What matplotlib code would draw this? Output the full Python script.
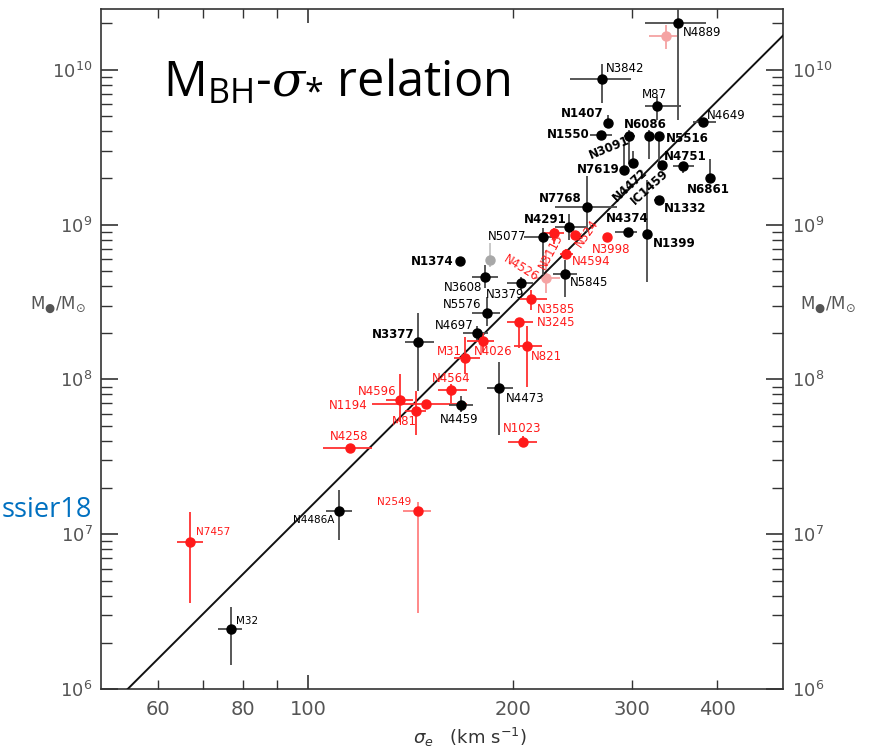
import numpy as np
import matplotlib

matplotlib.use("Agg")
import matplotlib.pyplot as plt  # noqa: E402

# galaxy data: sigma_e [km/s] with lower/upper bounds, M_BH [M_sun] with lower/upper bounds
names = ["N4889", "", "N3842", "M87", "N1407", "N1550", "N3091", "N6086", "N5516", "N4649",
         "N4472", "N7619", "IC1459", "N4751", "N6861", "N1332", "N7768", "N4291", "N4374",
         "N1399", "N5077", "N3115", "N524", "N3998", "N4594", "N1374", "", "N3608", "N3379",
         "N4526", "N5845", "N3585", "N5576", "N3245", "N4697", "N3377", "N4026", "N821",
         "M31", "N4564", "N4473", "N4596", "N1194", "M81", "N4459", "N1023", "N4258",
         "N2549", "N4486A", "N7457", "M32"]
groups = ["k", "p", "k", "k", "k", "k", "k", "k", "k", "k",
          "k", "k", "k", "k", "k", "k", "k", "k", "k",
          "k", "k", "r", "r", "r", "r", "k", "g", "k", "k",
          "p", "k", "r", "k", "r", "k", "k", "r", "r",
          "r", "r", "k", "r", "r", "r", "k", "r", "r",
          "rl", "k", "r", "k"]
sigma = [350, 336, 271, 326, 276, 270, 297, 318, 328, 381,
         301, 292, 332, 356, 390, 328, 257, 242, 296,
         315, 222, 230, 247, 275.5, 240, 167, 185, 182, 206,
         224, 239, 212.6, 183, 204, 177, 145, 181, 210,
         170, 162.5, 191, 136.6, 149, 144, 168, 207, 115,
         145, 111, 67, 77]
sigma_lo = [313, 318, 243, 313, 276, 260, 292, 318, 328, 368,
            301, 292, 332, 344, 390, 323, 231, 231, 283,
            315, 208, 222, 247, 275.5, 235, 167, 185, 174, 196,
            215, 229, 205, 174, 196, 169, 139, 171, 201,
            164, 155, 183, 130, 124, 139, 161, 197, 105,
            138, 106, 64, 73.6]
sigma_hi = [385, 349, 299, 354, 276, 280, 303, 318, 328, 398,
            301, 292, 332, 370, 390, 334, 285, 256, 305,
            315, 232, 238, 247, 275.5, 245, 167, 185, 190.5, 214.5,
            235, 249, 224.4, 191.6, 214.5, 184, 153, 188, 221,
            179, 171, 200, 142.6, 171, 149, 175, 217, 124,
            151.5, 116, 70, 79.8]
mass = [2.0e10, 1.65e10, 8.7e9, 5.8e9, 4.5e9, 3.8e9, 3.7e9, 3.7e9, 3.7e9, 4.6e9,
        2.5e9, 2.25e9, 2.44e9, 2.4e9, 2.0e9, 1.44e9, 1.30e9, 9.6e8, 9.0e8,
        8.65e8, 8.3e8, 8.8e8, 8.5e8, 8.3e8, 6.5e8, 5.8e8, 5.9e8, 4.6e8, 4.2e8,
        4.5e8, 4.8e8, 3.3e8, 2.7e8, 2.35e8, 2.0e8, 1.74e8, 1.78e8, 1.64e8,
        1.37e8, 8.6e7, 8.75e7, 7.4e7, 6.9e7, 6.3e7, 6.8e7, 3.95e7, 3.6e7,
        1.42e7, 1.42e7, 8.9e6, 2.44e6]
mass_lo = [4.7e9, 1.35e10, 6.1e9, 4.7e9, 4.2e9, 3.8e9, 2.45e9, 2.66e9, 2.5e9, 4.6e9,
           2.4e9, 2.25e9, 2.44e9, 2.15e9, 2.0e9, 1.44e9, 8.9e8, 7.9e8, 9.0e8,
           4.25e8, 4.7e8, 7.5e8, 8.5e8, 8.3e8, 6.0e8, 5.8e8, 5.3e8, 3.9e8, 3.8e8,
           3.6e8, 3.4e8, 2.8e8, 2.2e8, 1.6e8, 1.8e8, 8.4e7, 1.5e8, 9.0e7,
           1.08e8, 7.0e7, 4.4e7, 5.3e7, 6.9e7, 4.4e7, 6.2e7, 3.65e7, 3.6e7,
           3.1e6, 9.2e6, 3.6e6, 1.44e6]
mass_hi = [3.0e10, 1.93e10, 1.08e10, 6.7e9, 5.1e9, 3.8e9, 4.1e9, 4.1e9, 3.7e9, 4.6e9,
           3.0e9, 3.3e9, 2.44e9, 2.5e9, 2.66e9, 1.44e9, 2.07e9, 1.17e9, 9.0e8,
           1.93e9, 9.5e8, 9.5e8, 8.5e8, 8.3e8, 7.0e8, 5.8e8, 7.6e8, 5.5e8, 4.6e8,
           6.8e8, 5.9e8, 3.8e8, 3.4e8, 2.5e8, 2.2e8, 2.67e8, 2.0e8, 2.2e8,
           1.87e8, 9.3e7, 1.3e8, 1.08e8, 6.9e7, 8.4e7, 7.8e7, 4.3e7, 3.6e7,
           1.62e7, 1.93e7, 1.4e7, 3.4e6]

# fitted relation: log M = A + B log(sigma / 200)
LINE_A = 8.48
LINE_B = 4.37

x_ticks_labelled = [60, 80, 100, 200, 300, 400]

# label placement (pixel offsets, alignment, rotation)
label_pos = {
    "N4889": (5, -10, "left", 0), "N3842": (4, 10, "left", 0), "M87": (-2, 12, "center", 0),
    "N1407": (-4, 10, "right", 0), "N1550": (-12, 0, "right", 0), "N3091": (-20, -11, "center", 22),
    "N6086": (-4, 12, "center", 0), "N5516": (7, -2, "left", 0), "N4649": (4, 6, "left", 0),
    "N4751": (3, 9, "center", 0), "N6861": (-1, -12, "center", 0), "N7619": (-5, 0, "right", 0),
    "N4472": (-3, -22, "center", 43), "IC1459": (-13, -23, "center", 42),
    "N1332": (5, -9, "left", 0), "N7768": (-5, 8, "right", 0), "N4291": (-2, 8, "right", 0),
    "N4374": (-1, 13, "center", 0), "N1399": (6, -9, "left", 0), "N5077": (-17, 1, "right", 0),
    "N3115": (-3, -18, "center", 62), "N524": (12, 2, "center", 55), "N3998": (4, -12, "center", 0),
    "N4594": (5, -8, "left", 0), "N1374": (-6, 0, "right", 0), "N3608": (-3, -11, "right", 0),
    "N3379": (-16, -12, "center", 0), "N4526": (-25, 10, "center", -32), "N5845": (5, -9, "left", 0),
    "N3585": (6, -10, "left", 0), "N5576": (-5, 8, "right", 0), "N3245": (18, -1, "left", 0),
    "N4697": (-3, 7, "right", 0), "N3377": (-4, 8, "right", 0), "N4026": (10, -11, "center", 0),
    "N821": (4, -10, "left", 0), "M31": (-3, 7, "right", 0), "N4564": (0, 11, "center", 0),
    "N4473": (7, -10, "left", 0), "N4596": (-4, 8, "right", 0), "N1194": (-58, -1, "right", 0),
    "M81": (-11, -11, "center", 0), "N4459": (-2, -14, "center", 0), "N1023": (-1, 13, "center", 0),
    "N4258": (0, 12, "center", 0), "N2549": (-7, 9, "right", 0), "N4486A": (-5, -9, "right", 0),
    "N7457": (6, 10, "left", 0), "M32": (5, 8, "left", 0),
}
bold_labels = {"N1407", "N1550", "N3091", "N6086", "N5516", "N4751", "N7619", "N4472", "IC1459",
               "N6861", "N1332", "N7768", "N4291", "N4374", "N1399", "N1374", "N3377"}
small_labels = {"N7457", "N2549", "N4486A", "M32"}

# group -> (marker colour, errorbar colour, label colour)
styles = {
    "k": ("black", "#4a4a4a", "black"),
    "r": ("#ff1a1a", "#ff3030", "#ff1a1a"),
    "rl": ("#ff1a1a", "#ff8080", "#ff1a1a"),
    "p": ("#f5a3a3", "#f5a3a3", "#ff1a1a"),
    "g": ("#a8a8a8", "#c4c4c4", "#a8a8a8"),
}

plt.rcParams["mathtext.rm"] = "Open Sans"
plt.rcParams["mathtext.it"] = "DejaVu Serif:italic"

fig = plt.figure(figsize=(8.75, 7.51), dpi=100)
ax = fig.add_axes([101 / 875, 61.7 / 751, 682.3 / 875, 680 / 751])
ax.set_xscale("log")
ax.set_yscale("log")
ax.set_xlim(49.5, 500.7)
ax.set_ylim(1e6, 2.45e10)

# relation line
xs = np.geomspace(45, 520, 50)
ax.plot(xs, 10 ** (LINE_A + LINE_B * np.log10(xs / 200.0)), color="#111111", lw=1.4, zorder=3)

sig = np.array(sigma)
m = np.array(mass)
xerr = np.array([sig - np.array(sigma_lo), np.array(sigma_hi) - sig])
yerr = np.array([m - np.array(mass_lo), np.array(mass_hi) - m])

for i, name in enumerate(names):
    mc, ec, lc = styles[groups[i]]
    ax.errorbar(sigma[i], mass[i], xerr=xerr[:, i:i + 1], yerr=yerr[:, i:i + 1],
                fmt="o", ms=6.5, color=mc, mec=mc, ecolor=ec, elinewidth=1.3,
                capsize=0, zorder=4 if groups[i] in ("k", "r", "rl") else 2)
    if name:
        dx, dy, ha, rot = label_pos[name]
        ax.annotate(name, xy=(sigma[i], mass[i]), xytext=(dx, dy),
                    textcoords="offset pixels", ha=ha, va="center", rotation=rot,
                    rotation_mode="anchor" if rot == 0 else "default",
                    fontsize=7.5 if name in small_labels else 8.5,
                    fontweight="bold" if name in bold_labels else "normal",
                    color=lc, zorder=5)

# axes styling
for sp in ax.spines.values():
    sp.set_linewidth(1.2)
    sp.set_color("#333333")
ax.xaxis.set_major_locator(matplotlib.ticker.FixedLocator([100]))
ax.xaxis.set_minor_locator(matplotlib.ticker.FixedLocator([60, 70, 80, 90, 200, 300, 400]))
ax.xaxis.set_major_formatter(matplotlib.ticker.FixedFormatter(["100"]))
ax.xaxis.set_minor_formatter(matplotlib.ticker.FuncFormatter(
    lambda v, p: f"{v:.0f}" if round(v) in x_ticks_labelled else ""))
ax.tick_params(which="both", direction="in", top=True, right=True, labelright=True,
               labelcolor="#555555", labelsize=14, color="#333333")
ax.tick_params(axis="x", which="major", length=10, width=1.2, pad=8)
ax.tick_params(axis="x", which="minor", length=6.5, width=1.0, pad=8)
ax.tick_params(axis="y", which="major", length=12.5, width=1.2, pad=6, labelsize=13)
ax.tick_params(axis="y", which="minor", length=8, width=1.0)

# side labels
ylab = r"M$_{●}$/M$_{\odot}$"
fig.text(58 / 875, 1 - 305 / 751, ylab, ha="center", va="center", fontsize=12,
         color="#555555", math_fontfamily="dejavusans")
fig.text(828 / 875, 1 - 305 / 751, ylab, ha="center", va="center", fontsize=12,
         color="#555555", math_fontfamily="dejavusans")
fig.text(470 / 875, 1 - 737 / 751, r"$\sigma_e$   (km s$^{-1}$)", ha="center", va="center",
         fontsize=13, color="#333333", math_fontfamily="dejavusans")

# slide annotations
fig.text(163 / 875, 1 - 96 / 751, r"M$_{\mathrm{BH}}$-$\mathit{\sigma}_{*}$ relation",
         ha="left", va="baseline", fontsize=35, family="Open Sans", math_fontfamily="custom")
fig.text(92 / 875, 1 - 517 / 751, "ssier18", ha="right", va="baseline", fontsize=19.5,
         family="Open Sans", color="#0070c0")

fig.savefig("out.png", dpi=100)
